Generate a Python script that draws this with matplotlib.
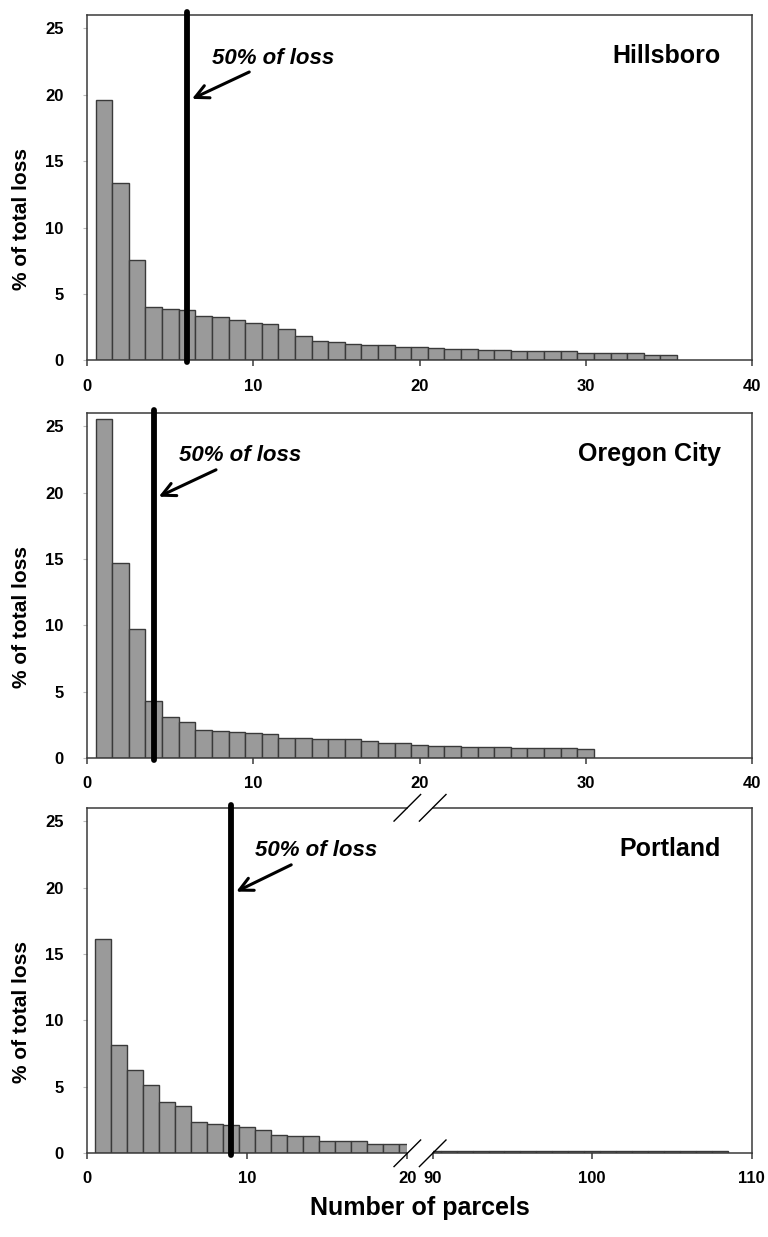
#!/usr/bin/env python3
"""
Ranked parcel loss histograms for three cities, with the parcel count
that accounts for half of the total loss marked by a vertical line.
"""

import matplotlib
matplotlib.use("Agg")
import matplotlib.pyplot as plt

# % of total loss per parcel (ranked)
hillsboro_loss = [19.6, 13.35, 7.55, 4.0, 3.9, 3.78, 3.32, 3.25, 3.07, 2.82,
                  2.75, 2.4, 1.87, 1.44, 1.39, 1.26, 1.16, 1.13, 1.04, 1.01,
                  0.96, 0.88, 0.85, 0.78, 0.78, 0.73, 0.68, 0.68, 0.68, 0.6,
                  0.53, 0.53, 0.53, 0.45, 0.43]
oregon_city_loss = [25.5, 14.73, 9.74, 4.34, 3.14, 2.74, 2.11, 2.06, 1.98, 1.93,
                    1.81, 1.56, 1.51, 1.48, 1.46, 1.46, 1.28, 1.13, 1.14, 0.97,
                    0.92, 0.89, 0.88, 0.88, 0.83, 0.8, 0.78, 0.78, 0.78, 0.73]
# Portland is drawn on a broken axis: parcels 1-20 and 90-108
portland_loss_low = [16.13, 8.14, 6.28, 5.13, 3.89, 3.59, 2.39, 2.21, 2.16, 1.98,
                     1.78, 1.36, 1.33, 1.28, 0.95, 0.93, 0.93, 0.7, 0.68, 0.68]
portland_loss_high = [0.2, 0.2, 0.2, 0.2, 0.2, 0.2, 0.2, 0.2, 0.17, 0.17,
                      0.17, 0.17, 0.17, 0.17, 0.17, 0.17, 0.17, 0.17, 0.17]
portland_high_start = 90

cities = ["Hillsboro", "Oregon City", "Portland"]
half_loss_parcels = [6, 4, 9]   # where 50% of the loss is reached
yticks = [0, 5, 10, 15, 20, 25]

BAR_COLOR = "#9a9a9a"
EDGE_COLOR = "#3a3a3a"
FONT = ["Liberation Sans", "DejaVu Sans"]
FIG_W, FIG_H = 768, 1237


def style_axes(ax, left=True, right=True):
    """Common frame / tick styling."""
    for side in ["top", "bottom", "left", "right"]:
        ax.spines[side].set_color(EDGE_COLOR)
        ax.spines[side].set_linewidth(1.1)
    ax.spines["left"].set_visible(left)
    ax.spines["right"].set_visible(right)
    ax.set_ylim(0, 26)
    ax.tick_params(axis="x", direction="out", length=4, width=1.1,
                   color=EDGE_COLOR, pad=9, labelsize=12, top=False)
    ax.tick_params(axis="y", direction="out", length=3, width=0.8,
                   color="#bbbbbb", pad=14, labelsize=12, right=False)
    for lab in ax.get_xticklabels() + ax.get_yticklabels():
        lab.set_fontweight("bold")
        lab.set_family(FONT)


def draw_bars(ax, start, values):
    """Bars of width 1 centred on the parcel rank."""
    ranks = list(range(start, start + len(values)))
    ax.bar(ranks, values, width=1.0, color=BAR_COLOR, edgecolor=EDGE_COLOR,
           linewidth=1.0, zorder=2)


def mark_half(ax, x):
    """Thick vertical line plus the '50% of loss' callout."""
    ax.plot([x, x], [-0.15, 26.2], color="black", lw=4.2,
            solid_capstyle="round", clip_on=False, zorder=5)
    ax.annotate("", xy=(x + 0.15, 19.6), xytext=(x + 3.9, 21.8),
                arrowprops=dict(arrowstyle="->, head_length=0.6, head_width=0.3",
                                lw=2.2, color="black", mutation_scale=16),
                zorder=6)
    ax.text(x + 1.5, 22.75, "50% of loss", fontsize=16, fontweight="bold",
            fontstyle="italic", family=FONT, va="center", ha="left", zorder=6)


def city_label(fig, ax, name):
    """City name, right-aligned near the top right of the panel."""
    bbox = ax.get_position()
    y = bbox.y0 + 0.88 * bbox.height
    fig.text(721 / FIG_W, y, name, fontsize=18, fontweight="bold",
             family=FONT, ha="right", va="center")


def y_label(ax):
    ax.set_ylabel("% of total loss", fontsize=15, fontweight="bold",
                  family=FONT)
    w_px = ax.get_position().width * FIG_W
    ax.yaxis.set_label_coords((31 - 87.3) / w_px, 0.41)


def break_marks(ax, side):
    """Diagonal slashes at the broken end of an axis."""
    bbox = ax.get_position()
    dx, dy = 13.3 / (bbox.width * FIG_W), 13.3 / (bbox.height * FIG_H)
    x0 = 1.0 if side == "right" else 0.0
    kw = dict(transform=ax.transAxes, color="black", lw=1.0, clip_on=False,
              zorder=7)
    for y0 in (0.0, 1.0):
        ax.plot([x0 - dx, x0 + dx], [y0 - dy, y0 + dy], **kw)


def main():
    fig = plt.figure(figsize=(FIG_W / 100, FIG_H / 100), dpi=100)

    left, width = 0.1137, 0.8651
    bottoms = [0.70857, 0.38698, 0.06767]
    height = 0.2793

    # Hillsboro and Oregon City: single continuous axis 0-40
    for i, values in enumerate([hillsboro_loss, oregon_city_loss]):
        ax = fig.add_axes([left, bottoms[i], width, height])
        draw_bars(ax, 1, values)
        ax.set_xlim(0, 40)
        ax.set_xticks([0, 10, 20, 30, 40])
        ax.set_yticks(yticks)
        style_axes(ax)
        mark_half(ax, half_loss_parcels[i])
        city_label(fig, ax, cities[i])
        y_label(ax)

    # Portland: broken x axis
    ax_lo = fig.add_axes([left, bottoms[2], 0.41667, height])
    ax_hi = fig.add_axes([0.5634, bottoms[2], 0.4154, height])
    draw_bars(ax_lo, 1, portland_loss_low)
    draw_bars(ax_hi, portland_high_start, portland_loss_high)
    ax_lo.set_xlim(0, 20)
    ax_hi.set_xlim(90, 110)
    ax_lo.set_xticks([0, 10, 20])
    ax_hi.set_xticks([90, 100, 110])
    ax_lo.set_yticks(yticks)
    ax_hi.set_yticks([])
    style_axes(ax_lo, right=False)
    style_axes(ax_hi, left=False)
    break_marks(ax_lo, "right")
    break_marks(ax_hi, "left")
    mark_half(ax_lo, half_loss_parcels[2])
    city_label(fig, ax_hi, cities[2])
    y_label(ax_lo)

    fig.text(420 / FIG_W, 1 - 1208 / FIG_H, "Number of parcels", fontsize=18,
             fontweight="bold", family=FONT, ha="center", va="center")

    fig.savefig("out.png", dpi=100)


if __name__ == "__main__":
    main()
